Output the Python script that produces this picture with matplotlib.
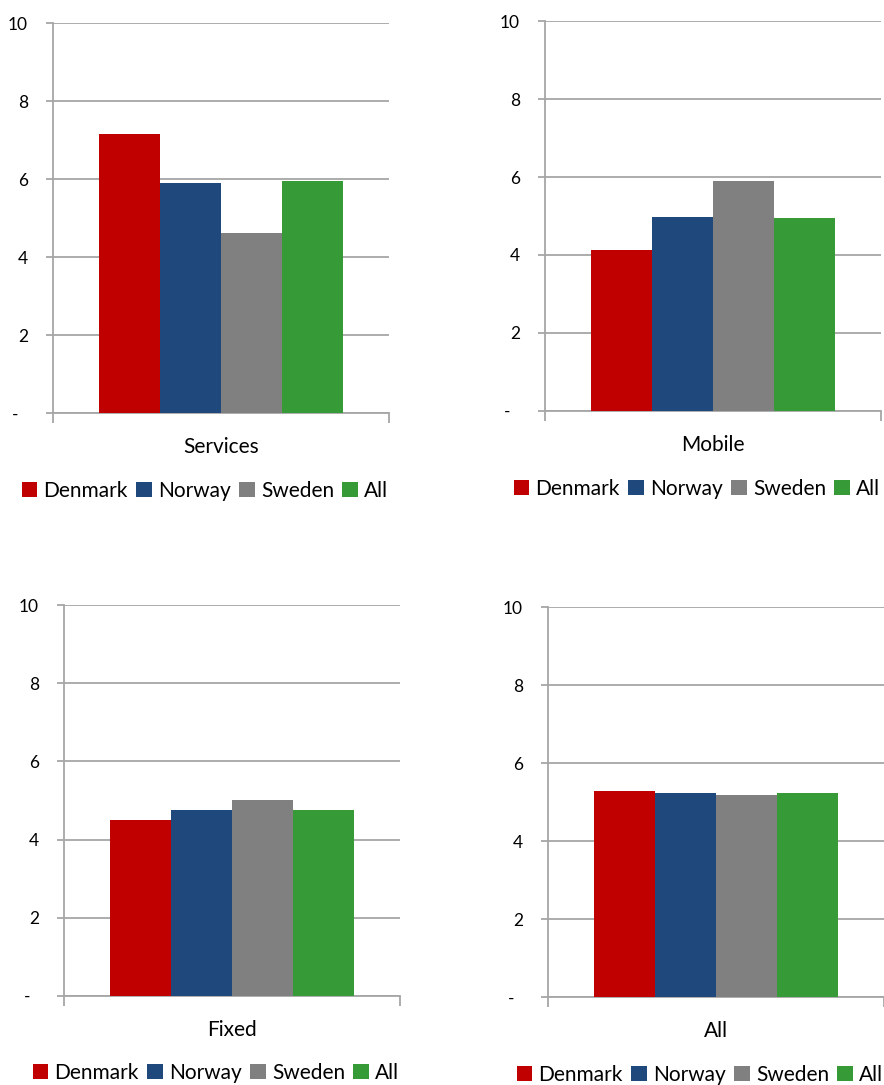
import numpy as np
import matplotlib.pyplot as plt

plt.rcParams['font.family'] = ['Lato', 'DejaVu Sans']

countries = ['Denmark', 'Norway', 'Sweden', 'All']
colors = ['#C00000', '#1F497D', '#808080', '#369B36']
panels = ['Services', 'Mobile', 'Fixed', 'All']
values = {
    'Services': [7.15, 5.90, 4.62, 5.95],
    'Mobile':   [4.13, 4.97, 5.90, 4.95],
    'Fixed':    [4.50, 4.76, 5.01, 4.76],
    'All':      [5.28, 5.23, 5.18, 5.23],
}
yticks = [0, 2, 4, 6, 8, 10]
yticklabels = ['-  ', '2', '4', '6', '8', '10']

W, H = 884, 1085
fig = plt.figure(figsize=(W / 100, H / 100), dpi=100)

# pixel boxes: (left, top of 10, bottom of 0), axis width 336 px
boxes = [(53, 23, 413), (545, 21, 411), (64, 605, 996), (548, 607, 997)]
legend_y = [491, 489, 1073, 1075]
grid_c = '#A6A6A6'

for name, (x0, top, bot), ly in zip(panels, boxes, legend_y):
    ax = fig.add_axes([x0 / W, 1 - bot / H, 336 / W, (bot - top) / H])
    bw = 0.1815
    offs = (np.arange(4) - 1.5) * bw
    for i in range(4):
        ax.bar(offs[i], values[name][i], width=bw, color=colors[i],
               label=countries[i], zorder=3)
    ax.set_xlim(-0.5, 0.5)
    ax.set_ylim(0, 10)
    ax.set_yticks(yticks)
    ax.set_yticklabels(yticklabels, fontsize=12.5)
    ax.yaxis.grid(True, color=grid_c, linewidth=1.3, zorder=0)
    ax.tick_params(axis='y', length=5, width=1.3, color=grid_c, pad=13)
    ax.set_xticks([0])
    ax.set_xticklabels([name], fontsize=15)
    ax.tick_params(axis='x', length=0, pad=17)
    ax.set_xticks([-0.5, 0.5], minor=True)
    ax.tick_params(axis='x', which='minor', length=7, width=1.3, color=grid_c)
    for s in ['top', 'right']:
        ax.spines[s].set_visible(False)
    for s in ['left', 'bottom']:
        ax.spines[s].set_color(grid_c)
        ax.spines[s].set_linewidth(1.3)
    fig.legend(*ax.get_legend_handles_labels(), loc='center',
               bbox_to_anchor=((x0 + 152) / W, 1 - ly / H), ncol=4,
               frameon=False, fontsize=15, handlelength=0.75, handleheight=0.75,
               handletextpad=0.3, columnspacing=0.4, borderaxespad=0)

fig.savefig('out.png', dpi=100)
